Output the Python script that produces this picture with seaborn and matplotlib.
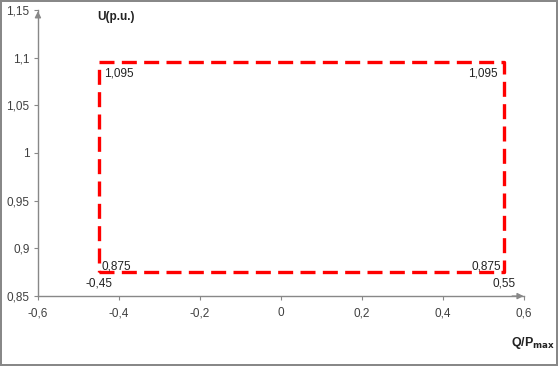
import matplotlib
matplotlib.use("Agg")
import matplotlib.pyplot as plt
import seaborn as sns
import pandas as pd
from matplotlib.ticker import FuncFormatter, FixedLocator

sns.set_style("white")
plt.rcParams['font.family'] = ['Liberation Sans', 'DejaVu Sans']

q_vals = [-0.45, 0.55, 0.55, -0.45, -0.45]
u_vals = [0.875, 0.875, 1.095, 1.095, 0.875]
x_ticks = [-0.6, -0.4, -0.2, 0, 0.2, 0.4, 0.6]
y_ticks = [0.85, 0.9, 0.95, 1.0, 1.05, 1.1, 1.15]

df = pd.DataFrame({"Q": q_vals, "U": u_vals})

fig = plt.figure(figsize=(5.58, 3.66), dpi=100)
fig.patch.set_edgecolor("#888888")
fig.patch.set_linewidth(1.5)
ax = fig.add_axes([0.068, 0.191, 0.871, 0.782])

sns.lineplot(data=df, x="Q", y="U", sort=False, estimator=None, ax=ax,
             color="#ff0000", linewidth=2.4)
ax.lines[0].set_dashes([4.5, 2.2])

ax.set_xlim(-0.6, 0.6)
ax.set_ylim(0.85, 1.15)
ax.xaxis.set_major_locator(FixedLocator(x_ticks))
ax.yaxis.set_major_locator(FixedLocator(y_ticks))
fmt = FuncFormatter(lambda v, p: ("%g" % round(v, 3)).replace(".", ","))
ax.xaxis.set_major_formatter(fmt)
ax.yaxis.set_major_formatter(fmt)
ax.tick_params(axis="both", labelsize=8.5, labelcolor="#404040", length=3,
               width=0.8, direction="out", color="#888888",
               bottom=True, left=True)
ax.tick_params(axis="x", pad=5)
ax.tick_params(axis="y", pad=3)
ax.set_xlabel("")
ax.set_ylabel("")

for s in ["top", "right"]:
    ax.spines[s].set_visible(False)
for s in ["left", "bottom"]:
    ax.spines[s].set_color("#888888")
    ax.spines[s].set_linewidth(1.0)

# arrow heads on the axes
ax.annotate("", xy=(0, 1.005), xytext=(0, 0.97), xycoords="axes fraction",
            arrowprops=dict(arrowstyle="-|>", color="#888888", lw=1.0,
                            mutation_scale=9), annotation_clip=False)
ax.annotate("", xy=(1.005, 0), xytext=(0.97, 0), xycoords="axes fraction",
            arrowprops=dict(arrowstyle="-|>", color="#888888", lw=1.0,
                            mutation_scale=9), annotation_clip=False)

lbl = dict(fontsize=8.5, color="#222222")
ax.annotate("1,095", (q_vals[3], u_vals[3]), xytext=(4, -4),
            textcoords="offset points", ha="left", va="top", **lbl)
ax.annotate("1,095", (q_vals[2], u_vals[2]), xytext=(-4, -4),
            textcoords="offset points", ha="right", va="top", **lbl)
ax.annotate("0,875", (q_vals[0], u_vals[0]), xytext=(2, 0),
            textcoords="offset points", ha="left", va="bottom", **lbl)
ax.annotate("0,875", (q_vals[1], u_vals[1]), xytext=(-2, 0),
            textcoords="offset points", ha="right", va="bottom", **lbl)
ax.annotate("-0,45", (q_vals[0], u_vals[0]), xytext=(0, -4),
            textcoords="offset points", ha="center", va="top", **lbl)
ax.annotate("0,55", (q_vals[1], u_vals[1]), xytext=(0, -4),
            textcoords="offset points", ha="center", va="top", **lbl)

fig.text(0.174, 0.953, "U(p.u.)", fontsize=8.5, fontweight="bold",
         color="#222222", ha="left", va="center")
fig.text(0.995, 0.063, r"Q/P$_{\mathbf{max}}$", fontsize=9,
         fontweight="bold", color="#222222", ha="right", va="center")

fig.savefig("out.png", dpi=100, edgecolor=fig.get_edgecolor())
